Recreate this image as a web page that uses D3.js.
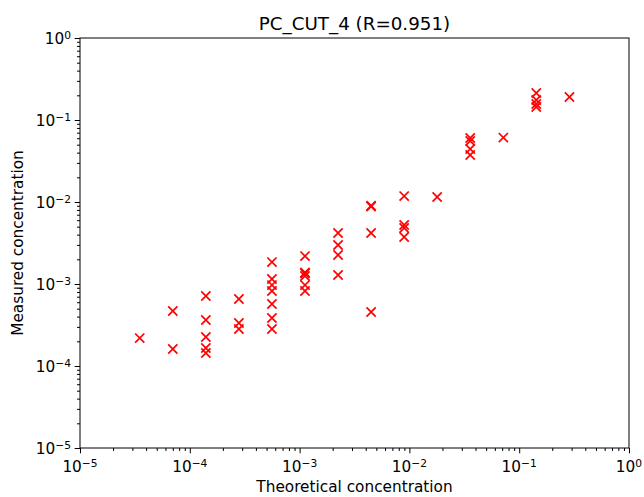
<!DOCTYPE html>
<html>
<head>
<meta charset="utf-8">
<script src="https://cdn.jsdelivr.net/npm/d3@7"></script>
<style>
  body { margin: 0; background: #fff; }
  #stage { width: 644px; height: 497px; }
  text { font-family: "DejaVu Sans", sans-serif; }
</style>
</head>
<body>
<div id="stage"></div>
<script>
// theoretical concentration (doubling dilution series) and measured values
const theoretical = [
  3.5e-5,
  7e-5, 7e-5,
  1.4e-4, 1.4e-4, 1.4e-4, 1.4e-4, 1.4e-4,
  2.8e-4, 2.8e-4, 2.8e-4,
  5.6e-4, 5.6e-4, 5.6e-4, 5.6e-4, 5.6e-4, 5.6e-4, 5.6e-4,
  1.12e-3, 1.12e-3, 1.12e-3, 1.12e-3, 1.12e-3, 1.12e-3,
  2.24e-3, 2.24e-3, 2.24e-3, 2.24e-3,
  4.48e-3, 4.48e-3, 4.48e-3, 4.48e-3,
  8.96e-3, 8.96e-3, 8.96e-3, 8.96e-3,
  1.79e-2,
  3.58e-2, 3.58e-2, 3.58e-2, 3.58e-2,
  7.17e-2,
  0.143, 0.143, 0.143, 0.143,
  0.287
];
const measured = [
  2.19e-4,
  4.69e-4, 1.61e-4,
  7.14e-4, 3.64e-4, 2.26e-4, 1.66e-4, 1.44e-4,
  6.56e-4, 3.34e-4, 2.83e-4,
  1.85e-3, 1.15e-3, 9.7e-4, 8.2e-4, 5.7e-4, 3.85e-4, 2.83e-4,
  2.19e-3, 1.38e-3, 1.34e-3, 1.25e-3, 9.7e-4, 8.2e-4,
  4.19e-3, 2.99e-3, 2.26e-3, 1.29e-3,
  9.0e-3, 8.8e-3, 4.19e-3, 4.56e-4,
  1.18e-2, 5.25e-3, 4.82e-3, 3.74e-3,
  1.15e-2,
  6.03e-2, 5.54e-2, 4.43e-2, 3.74e-2,
  6.1e-2,
  0.213, 0.175, 0.157, 0.144,
  0.191
];
const decades = [-5, -4, -3, -2, -1, 0];
const title = "PC_CUT_4 (R=0.951)";

const stage = d3.select("#stage");
const width = 644;
const height = 497;
const margin = { left: 80, right: 15, top: 38, bottom: 49 };

const svg = stage
  .append("svg")
  .attr("width", width)
  .attr("height", height)
  .attr("viewBox", `0 0 ${width} ${height}`);

const x = d3.scaleLog().domain([1e-5, 1]).range([margin.left, width - margin.right]);
const y = d3.scaleLog().domain([1e-5, 1]).range([height - margin.bottom, margin.top]);

// minor ticks: 2..9 in each decade
const minor = [];
decades.slice(0, -1).forEach(d => {
  for (let m = 2; m <= 9; m++) minor.push(m * Math.pow(10, d));
});
const major = decades.map(d => Math.pow(10, d));

const xAxis = svg.append("g").attr("transform", `translate(0,${height - margin.bottom})`);
xAxis.call(d3.axisBottom(x).tickValues(minor).tickSize(3).tickFormat(""));
xAxis.call(g => g.select(".domain").remove());
const xMaj = svg.append("g").attr("transform", `translate(0,${height - margin.bottom})`);
xMaj.call(d3.axisBottom(x).tickValues(major).tickSize(5.3).tickFormat(""));
xMaj.call(g => g.select(".domain").remove());

const yAxis = svg.append("g").attr("transform", `translate(${margin.left},0)`);
yAxis.call(d3.axisLeft(y).tickValues(minor).tickSize(3).tickFormat(""));
yAxis.call(g => g.select(".domain").remove());
const yMaj = svg.append("g").attr("transform", `translate(${margin.left},0)`);
yMaj.call(d3.axisLeft(y).tickValues(major).tickSize(5.3).tickFormat(""));
yMaj.call(g => g.select(".domain").remove());

svg.selectAll(".tick line").attr("stroke", "#000").attr("stroke-width", 1);

// tick labels with superscript exponents
function powLabel(sel, d) {
  sel.append("tspan").text("10");
  sel.append("tspan")
    .attr("dy", "-0.45em")
    .attr("font-size", "10.7px")
    .text(d === 0 ? "0" : "\u2212" + Math.abs(d));
}

decades.forEach(d => {
  const t = svg.append("text")
    .attr("x", x(Math.pow(10, d)))
    .attr("y", height - margin.bottom + 23.5)
    .attr("text-anchor", "middle")
    .attr("font-size", "15.3px")
    .attr("fill", "#000");
  powLabel(t, d);

  const t2 = svg.append("text")
    .attr("x", margin.left - 9)
    .attr("y", y(Math.pow(10, d)) + 6)
    .attr("text-anchor", "end")
    .attr("font-size", "15.3px")
    .attr("fill", "#000");
  powLabel(t2, d);
});

// frame
svg.append("rect")
  .attr("x", margin.left)
  .attr("y", margin.top)
  .attr("width", width - margin.left - margin.right)
  .attr("height", height - margin.top - margin.bottom)
  .attr("fill", "none")
  .attr("stroke", "#000")
  .attr("stroke-width", 1);

// x markers
const pts = theoretical.map((t, i) => [t, measured[i]]);
const s = 4.6;
svg.append("g")
  .selectAll("path")
  .data(pts)
  .join("path")
  .attr("d", d => {
    const px = x(d[0]), py = y(d[1]);
    return `M${px - s},${py - s}L${px + s},${py + s}M${px - s},${py + s}L${px + s},${py - s}`;
  })
  .attr("stroke", "#ff0000")
  .attr("stroke-width", 1.7)
  .attr("fill", "none");

svg.append("text")
  .attr("x", (margin.left + width - margin.right) / 2)
  .attr("y", 30)
  .attr("text-anchor", "middle")
  .attr("font-size", "18.3px")
  .attr("fill", "#000")
  .text(title);

svg.append("text")
  .attr("x", (margin.left + width - margin.right) / 2)
  .attr("y", 492)
  .attr("text-anchor", "middle")
  .attr("font-size", "15.3px")
  .attr("fill", "#000")
  .text("Theoretical concentration");

svg.append("text")
  .attr("transform", `translate(23,${(margin.top + height - margin.bottom) / 2}) rotate(-90)`)
  .attr("text-anchor", "middle")
  .attr("font-size", "15.3px")
  .attr("fill", "#000")
  .text("Measured concentration");
</script>
</body>
</html>
